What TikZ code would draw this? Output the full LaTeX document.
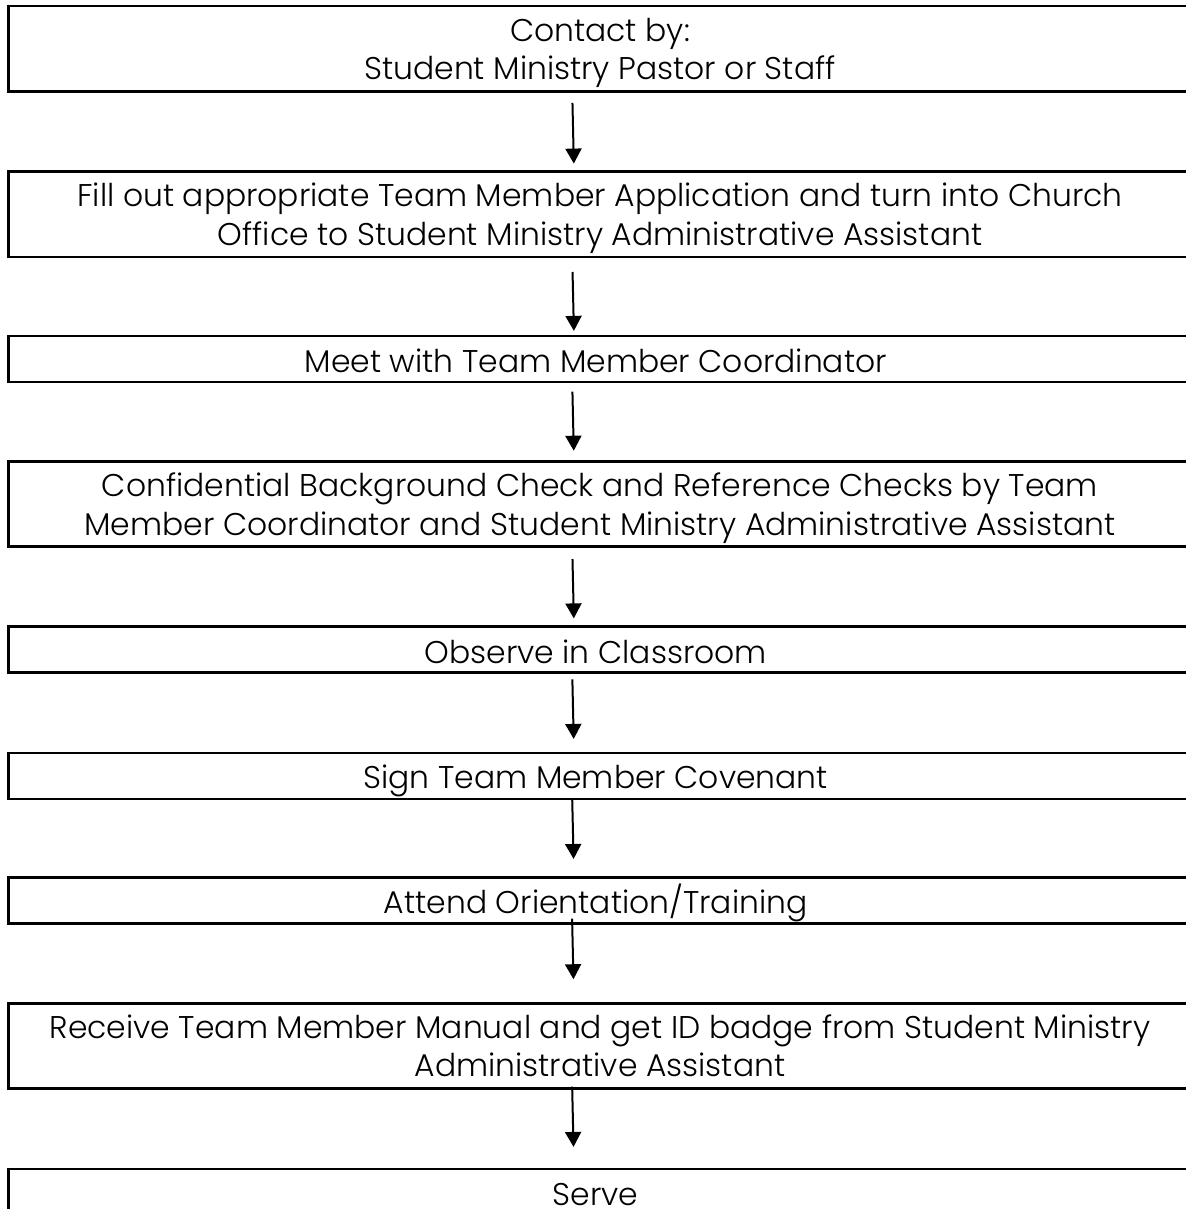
\documentclass[tikz,border=0pt]{standalone}
\usepackage{fontspec}
\setmainfont{Poppins}[UprightFont=* Light]
\usetikzlibrary{arrows.meta,positioning}
\tikzset{
	stepbox/.style={shape=rectangle,draw,line width=1.4pt,outer sep=0pt,inner sep=0pt,
		minimum width=591.7pt,align=center,font=\fontsize{15.7}{19.2}\selectfont},
	onerow/.style={minimum height=23pt,execute at begin node=\rule{0pt}{17pt},
		execute at end node=\rule[-3pt]{0pt}{3pt}},
	tworow/.style={minimum height=42.7pt,execute at begin node=\rule{0pt}{19.5pt},text depth=0pt},
	flow/.style={->,line width=1pt}
}
\begin{document}
\begin{tikzpicture}[>={Triangle[width=8pt,length=7.5pt]}]
					\useasboundingbox (0,0) rectangle (593pt,-604.5pt);
					\node (contact) [stepbox,tworow] at (300pt,-24.4pt) {
						Contact by:\\
						Student Ministry Pastor or Staff
					};
					\node (apply) [stepbox,tworow] [node distance=82.75pt,below of = contact] {
						Fill out appropriate Team Member Application and turn into Church\\
						Office to Student Ministry Administrative Assistant
					};
					\node (meet) [stepbox,onerow] [node distance=72.3pt,below of = apply] {
						Meet with Team Member Coordinator
					};
					\node (checks) [stepbox,tworow] [node distance=72.6pt,below of = meet] {
						Confidential Background Check and Reference Checks by Team\\
						Member Coordinator and Student Ministry Administrative Assistant
					};
					\node (observe) [stepbox,onerow] [node distance=72.65pt,below of = checks] {
						Observe in Classroom
					};
					\node (covenant) [stepbox,onerow] [node distance=63.25pt,below of = observe] {
						Sign Team Member Covenant
					};
					\node (orient) [stepbox,onerow] [node distance=62.4pt,below of = covenant] {
						Attend Orientation/Training
					};
					\node (manual) [stepbox,tworow] [node distance=72.6pt,below of = orient] {
						Receive Team Member Manual and get ID badge from Student Ministry\\
						Administrative Assistant
					};
					\node (serve) [stepbox,onerow] [node distance=73pt,below of = manual] {
						Serve
					};

					\draw[flow,shorten <=5.65pt,shorten >=4pt] ([xshift=-13.9pt]contact.south) -- ([xshift=-13pt]apply.north);
					\draw[flow,shorten <=7.5pt,shorten >=2.5pt] ([xshift=-13.9pt]apply.south) -- ([xshift=-13pt]meet.north);
					\draw[flow,shorten <=4.85pt,shorten >=5.35pt] ([xshift=-13.9pt]meet.south) -- ([xshift=-13pt]checks.north);
					\draw[flow,shorten <=6.15pt,shorten >=4pt] ([xshift=-13.9pt]checks.south) -- ([xshift=-13pt]observe.north);
					\draw[flow,shorten <=3.5pt,shorten >=7pt] ([xshift=-13.9pt]observe.south) -- ([xshift=-13pt]covenant.north);
					\draw[flow,shorten <=0pt,shorten >=9.35pt] ([xshift=-13.9pt]covenant.south) -- ([xshift=-13pt]orient.north);
					\draw[flow,shorten <=-2.5pt,shorten >=12pt] ([xshift=-13.9pt]orient.south) -- ([xshift=-13pt]manual.north);
					\draw[flow,shorten <=-1pt,shorten >=11pt] ([xshift=-13.9pt]manual.south) -- ([xshift=-13pt]serve.north);
				\end{tikzpicture}
\end{document}
